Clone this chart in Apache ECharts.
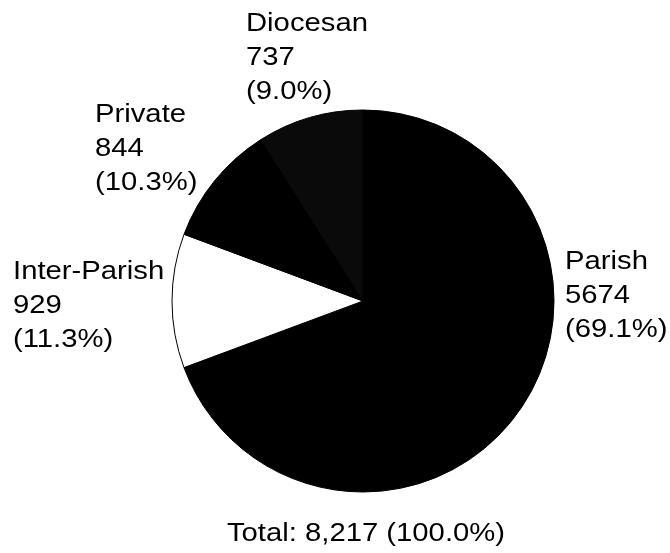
<!DOCTYPE html>
<html>
<head>
<meta charset="utf-8">
<script src="https://cdn.jsdelivr.net/npm/echarts@6/dist/echarts.min.js"></script>
<style>
  html, body { margin: 0; padding: 0; background: #fff; }
  #main { width: 670px; height: 553px; }
</style>
</head>
<body>
<div id="main"></div>
<script>
// data
var categories = ["Parish", "Inter-Parish", "Private", "Diocesan"];
var counts = [5674, 929, 844, 737];
var percents = ["69.1", "11.3", "10.3", "9.0"];
var totalLabel = "Total: 8,217 (100.0%)";

var sliceColors = ["#000000", "#ffffff", "#000000", "#0a0a0a"];
// top-left of each label block
var labelPos = [[565, 245], [13, 255], [95, 98], [246, 7]];

var FONT = '25px "Liberation Sans", Arial, sans-serif';
var STRETCH = 1.17; // the scanned lettering is wider than Arial

var chart = echarts.init(document.getElementById('main'));

var labels = categories.map(function (c, i) {
  return {
    type: 'text',
    x: labelPos[i][0],
    y: labelPos[i][1],
    scaleX: STRETCH,
    silent: true,
    style: {
      text: c + '\n' + counts[i] + '\n(' + percents[i] + '%)',
      font: FONT,
      lineHeight: 34,
      fill: '#000',
      textAlign: 'left',
      textVerticalAlign: 'top'
    }
  };
});

labels.push({
  type: 'text',
  x: 366,
  y: 517,
  scaleX: STRETCH,
  silent: true,
  style: {
    text: totalLabel,
    font: FONT,
    lineHeight: 34,
    fill: '#000',
    textAlign: 'center',
    textVerticalAlign: 'top'
  }
});

var option = {
  backgroundColor: '#fff',
  animation: false,
  graphic: labels,
  series: [{
    type: 'pie',
    center: [363, 301],
    radius: 191,
    startAngle: 90,
    clockwise: true,
    itemStyle: {
      borderColor: '#000',
      borderWidth: 1
    },
    label: { show: false },
    labelLine: { show: false },
    emphasis: { disabled: true },
    data: categories.map(function (c, i) {
      return { name: c, value: counts[i], itemStyle: { color: sliceColors[i] } };
    })
  }]
};

chart.setOption(option);
</script>
</body>
</html>
